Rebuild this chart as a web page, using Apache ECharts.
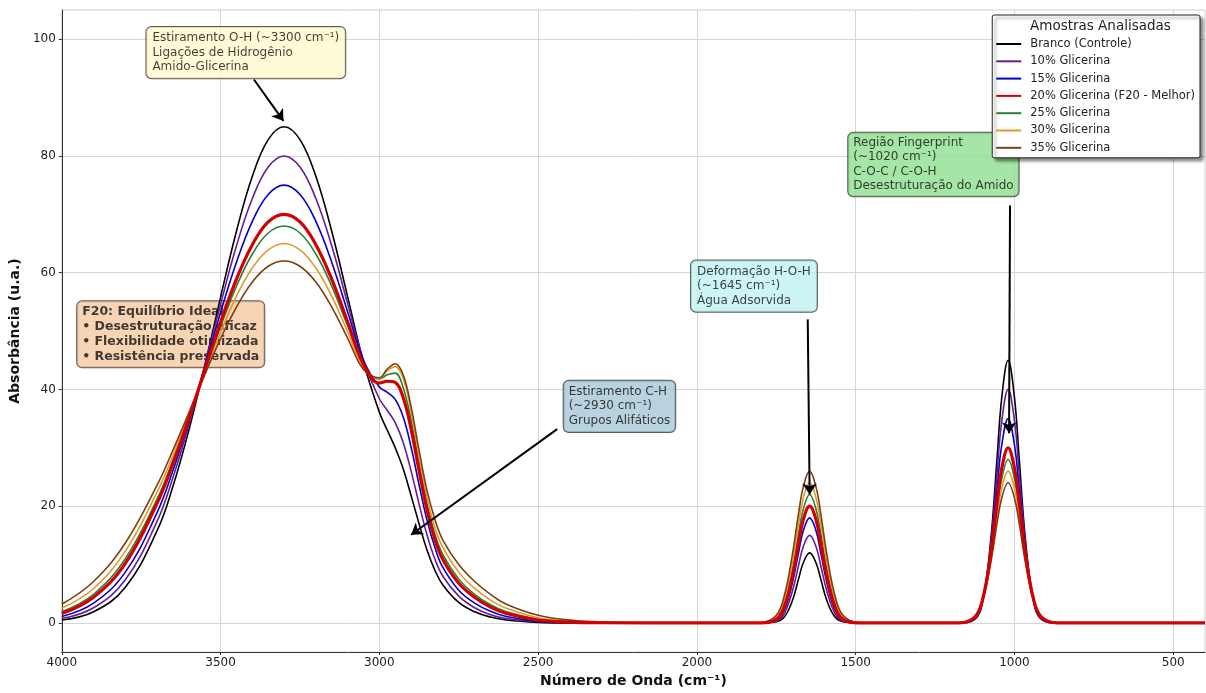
<!DOCTYPE html>
<html><head><meta charset="utf-8">
<script src="https://cdn.jsdelivr.net/npm/echarts@6/dist/echarts.min.js"></script>
<style>html,body{margin:0;padding:0;background:#fff}#c{width:1206px;height:693px}</style>
</head><body><div id="c"></div>
<script>
// ---- data ----
const wavenumbers = [4000,3900,3800,3700,3650,3600,3550,3500,3450,3400,
  3350,3300,3250,3200,3150,3100,3050,3000,2975,2950,
  2925,2900,2875,2850,2825,2800,2750,2700,2650,2600,
  2500,2400,2300,2000,1800,1750,1725,1700,1680,1665,
  1645,1625,1610,1590,1565,1540,1490,1300,1175,1125,
  1100,1075,1055,1040,1020,1000,985,965,940,915,
  865,700,400];
const branco = [0.5,1.9,6.1,15.8,23.4,33.0,44.0,55.8,67.1,76.5,
  82.8,85.0,82.8,76.5,67.1,55.9,44.7,36.1,33.0,30.0,
  26.4,21.8,17.0,12.5,9.0,6.5,3.5,1.9,1.0,0.5,
  0.1,0,0,0,0,0.2,1.0,3.7,7.5,10.3,
  12.0,10.3,7.5,3.7,1.0,0.2,0,0,0,0.6,
  3.8,14.0,28.1,38.6,45.0,38.6,28.1,14.0,3.8,0.6,
  0,0,0];
const glic10 = [0.75,2.6,7.4,17.4,24.9,33.9,44.1,54.6,64.6,72.7,
  78.1,80.0,78.1,72.7,64.6,54.7,45.0,38.4,36.4,34.3,
  30.9,26.0,20.4,15.1,10.9,8.0,4.6,2.6,1.4,0.75,
  0.2,0.04,0,0,0,0.3,1.6,5.3,9.8,13.1,
  15.0,13.1,9.8,5.3,1.6,0.3,0,0,0,0.7,
  3.9,13.3,25.6,34.6,40.0,34.6,25.6,13.3,3.9,0.7,
  0,0,0];
const glic15 = [1.1,3.4,8.7,18.9,26.1,34.6,43.8,53.2,61.8,68.8,
  73.4,75.0,73.4,68.8,61.8,53.3,45.0,40.4,39.5,38.3,
  35.3,30.1,23.7,17.6,12.9,9.5,5.6,3.4,2.0,1.1,
  0.3,0.07,0.02,0,0,0.5,2.2,6.7,12.0,15.8,
  18.0,15.8,12.0,6.7,2.2,0.5,0,0,0,0.8,
  3.8,12.3,22.9,30.5,35.0,30.5,22.9,12.3,3.8,0.8,
  0,0,0];
const glic20 = [1.6,4.4,10.2,20.5,27.3,35.0,43.3,51.5,58.9,64.8,
  68.7,70.0,68.7,64.8,58.9,51.6,44.3,41.1,41.4,41.2,
  38.6,33.2,26.1,19.4,14.3,10.85,6.8,4.4,2.7,1.6,
  0.5,0.14,0.04,0,0.01,0.6,2.7,7.8,13.6,17.7,
  20.0,17.7,13.6,7.8,2.7,0.6,0.01,0,0.02,1.0,
  4.1,11.7,20.5,26.5,30.0,26.5,20.5,11.7,4.1,1.0,
  0.02,0,0];
const glic25 = [1.9,4.9,11.0,21.2,27.9,35.3,43.1,50.8,57.7,63.2,
  66.8,68.0,66.8,63.2,57.7,50.9,44.3,41.8,42.5,42.8,
  40.3,34.7,27.3,20.5,15.2,11.7,7.5,4.9,3.1,1.9,
  0.64,0.19,0.05,0,0.02,0.8,3.3,8.9,15.3,19.5,
  22.0,19.5,15.3,8.9,3.3,0.8,0.02,0,0.02,0.9,
  3.8,10.9,19.1,24.7,28.0,24.7,19.1,10.9,3.8,0.9,
  0.02,0,0];
const glic30 = [2.5,5.9,12.3,22.4,28.7,35.7,42.9,49.8,56.0,60.8,
  63.9,65.0,63.9,60.8,56.0,49.9,43.8,41.9,43.2,43.9,
  41.9,36.2,28.5,21.5,16.3,12.9,8.7,5.9,3.9,2.5,
  0.9,0.3,0.09,0,0.03,1.05,3.9,10.2,17.0,21.4,
  24.0,21.4,17.0,10.2,3.9,1.05,0.03,0,0.02,0.98,
  3.9,10.6,18.1,23.1,26.0,23.1,18.1,10.6,3.9,0.98,
  0.02,0,0];
const glic35 = [3.2,7.1,13.7,23.6,29.6,36.0,42.5,48.7,54.1,58.4,
  61.1,62.0,61.1,58.4,54.1,48.8,43.4,42.0,43.5,44.4,
  42.5,37.0,29.6,22.7,17.7,14.2,10.0,7.1,4.9,3.2,
  1.3,0.47,0.15,0,0.04,1.3,4.6,11.5,18.7,23.3,
  26.0,23.3,18.7,11.5,4.6,1.3,0.04,0,0.03,1.05,
  3.9,10.2,17.0,21.4,24.0,21.4,17.0,10.2,3.9,1.05,
  0.03,0,0];
const seriesNames = ['Branco (Controle)','10% Glicerina','15% Glicerina','20% Glicerina (F20 - Melhor)','25% Glicerina','30% Glicerina','35% Glicerina'];
const seriesValues = [branco, glic10, glic15, glic20, glic25, glic30, glic35];
const xTicks = [4000,3500,3000,2500,2000,1500,1000,500];
const yTicks = [0,20,40,60,80,100];
const legendTitle = 'Amostras Analisadas';
const xTitle = 'Número de Onda (cm⁻¹)';
const yTitle = 'Absorbância (u.a.)';
const noteOH = ['Estiramento O-H (~3300 cm⁻¹)','Ligações de Hidrogênio','Amido-Glicerina'];
const noteCH = ['Estiramento C-H','(~2930 cm⁻¹)','Grupos Alifáticos'];
const noteHOH = ['Deformação H-O-H','(~1645 cm⁻¹)','Água Adsorvida'];
const noteFP = ['Região Fingerprint','(~1020 cm⁻¹)','C-O-C / C-O-H','Desestruturação do Amido'];
const noteF20 = ['F20: Equilíbrio Ideal','• Desestruturação eficaz','• Flexibilidade otimizada','• Resistência preservada'];

// ---- styles / placement (data coordinates) ----
const colors = ['#000000','#6a1b9a','#0000cd','#d40000','#2e7d32','#e0992a','#7b3f14'];
const widths = [1.6,1.6,1.6,3.2,1.6,1.6,1.6];
const FONT = 'DejaVu Sans';
const boxes = [
  {text: noteOH, at: [3732, 102.0], bg: '#fffacd', pad: [4, 6]},
  {text: noteCH, at: [2418, 41.4], bg: '#a6c7d7', pad: [4, 5]},
  {text: noteHOH, at: [2017, 62.0], bg: '#c0f3f3', pad: [4, 6]},
  {text: noteFP, at: [1522, 83.9], bg: '#8fdf8f', pad: [3, 5]}
];
const arrows = [
  [[3395, 93.1], [3302, 86.0]],
  [[2440, 33.2], [2900, 15.1]],
  [[1651, 52.0], [1645, 22.0]],
  [[1014, 71.5], [1017, 32.5]]
];

const chart = echarts.init(document.getElementById('c'), null, {renderer: 'canvas'});

const lineSeries = seriesNames.map((name, k) => ({
  name, type: 'line', symbol: 'none', showSymbol: false, smooth: 0.4,
  data: wavenumbers.map((w, i) => [w, seriesValues[k][i]]),
  lineStyle: {color: colors[k], width: widths[k]},
  itemStyle: {color: colors[k]},
  z: k === 3 ? 4 : 3,
  emphasis: {disabled: true}, silent: true
}));

function boxLabel(lines, bg, bold, pad) {
  return {
    show: true, position: [0, 0], align: 'left', verticalAlign: 'top',
    formatter: lines.join('\n'),
    backgroundColor: bg, borderColor: '#333', borderWidth: 1, borderRadius: 5,
    padding: pad,
    fontFamily: FONT, fontSize: bold ? 12.5 : 12, lineHeight: bold ? 15 : 14.4,
    fontWeight: bold ? 'bold' : 'normal', color: '#111'
  };
}

const annotTop = {
  name: 'notes', type: 'scatter', symbolSize: 1, silent: true, z: 6,
  itemStyle: {color: 'transparent'},
  data: boxes.map(b => ({value: b.at, label: boxLabel(b.text, b.bg, false, b.pad)})),
  markLine: {
    silent: true, symbol: ['none', 'arrow'], symbolSize: 11, animation: false,
    label: {show: false},
    lineStyle: {color: '#000', width: 2, type: 'solid'},
    emphasis: {disabled: true},
    data: arrows.map(a => [{coord: a[0]}, {coord: a[1]}])
  }
};
const annotBack = {
  name: 'notesBack', type: 'scatter', symbolSize: 1, silent: true, z: 1,
  itemStyle: {color: 'transparent'},
  data: [{value: [3950, 55.0], label: boxLabel(noteF20, '#f5c9a0', true, [3, 5])}]
};

const axisName = {fontFamily: FONT, fontWeight: 'bold', fontSize: 14, color: '#111'};
chart.setOption({
  animation: false,
  backgroundColor: '#fff',
  textStyle: {fontFamily: FONT},
  title: {text: legendTitle, left: 1030, top: 19, padding: 0, z: 21,
    textStyle: {fontFamily: FONT, fontSize: 13.5, fontWeight: 'normal', color: '#222'}},
  legend: {
    data: seriesNames, orient: 'vertical', right: 6, top: 15,
    padding: [22, 5, 3, 3], itemWidth: 25, itemHeight: 14, itemGap: 3.3,
    selectedMode: false, z: 20,
    itemStyle: {opacity: 0},
    textStyle: {fontFamily: FONT, fontSize: 11.5, lineHeight: 14, color: '#222', padding: [0, 0, 0, 4]},
    backgroundColor: '#fff', borderColor: '#222', borderWidth: 1, borderRadius: 2,
    shadowColor: 'rgba(0,0,0,0.45)', shadowBlur: 3, shadowOffsetX: 3, shadowOffsetY: 3
  },
  grid: {left: 57, right: 1, top: 10, bottom: 35, show: true, borderColor: '#cfcfcf', borderWidth: 1},
  xAxis: {
    type: 'value', inverse: true, min: 400, max: 4000,
    name: xTitle, nameLocation: 'middle', nameGap: 19, nameTextStyle: axisName,
    axisLine: {show: true, onZero: false, lineStyle: {color: '#333', width: 1}},
    axisTick: {show: true, length: 3, customValues: xTicks, lineStyle: {color: '#333'}},
    axisLabel: {customValues: xTicks, formatter: v => String(v), fontFamily: FONT, fontSize: 12, color: '#222', margin: 5},
    splitLine: {show: true, lineStyle: {color: '#d6d6d6', width: 1}}
  },
  yAxis: {
    type: 'value', min: -5, max: 105,
    name: yTitle, nameLocation: 'middle', nameGap: 36, nameTextStyle: axisName,
    axisLine: {show: true, onZero: false, lineStyle: {color: '#333', width: 1}},
    axisTick: {show: true, length: 3, customValues: yTicks, lineStyle: {color: '#333'}},
    axisLabel: {customValues: yTicks, formatter: v => String(v), fontFamily: FONT, fontSize: 12, color: '#222', margin: 6},
    splitLine: {show: true, lineStyle: {color: '#d6d6d6', width: 1}}
  },
  series: [annotBack, ...lineSeries, annotTop]
});
</script></body></html>
